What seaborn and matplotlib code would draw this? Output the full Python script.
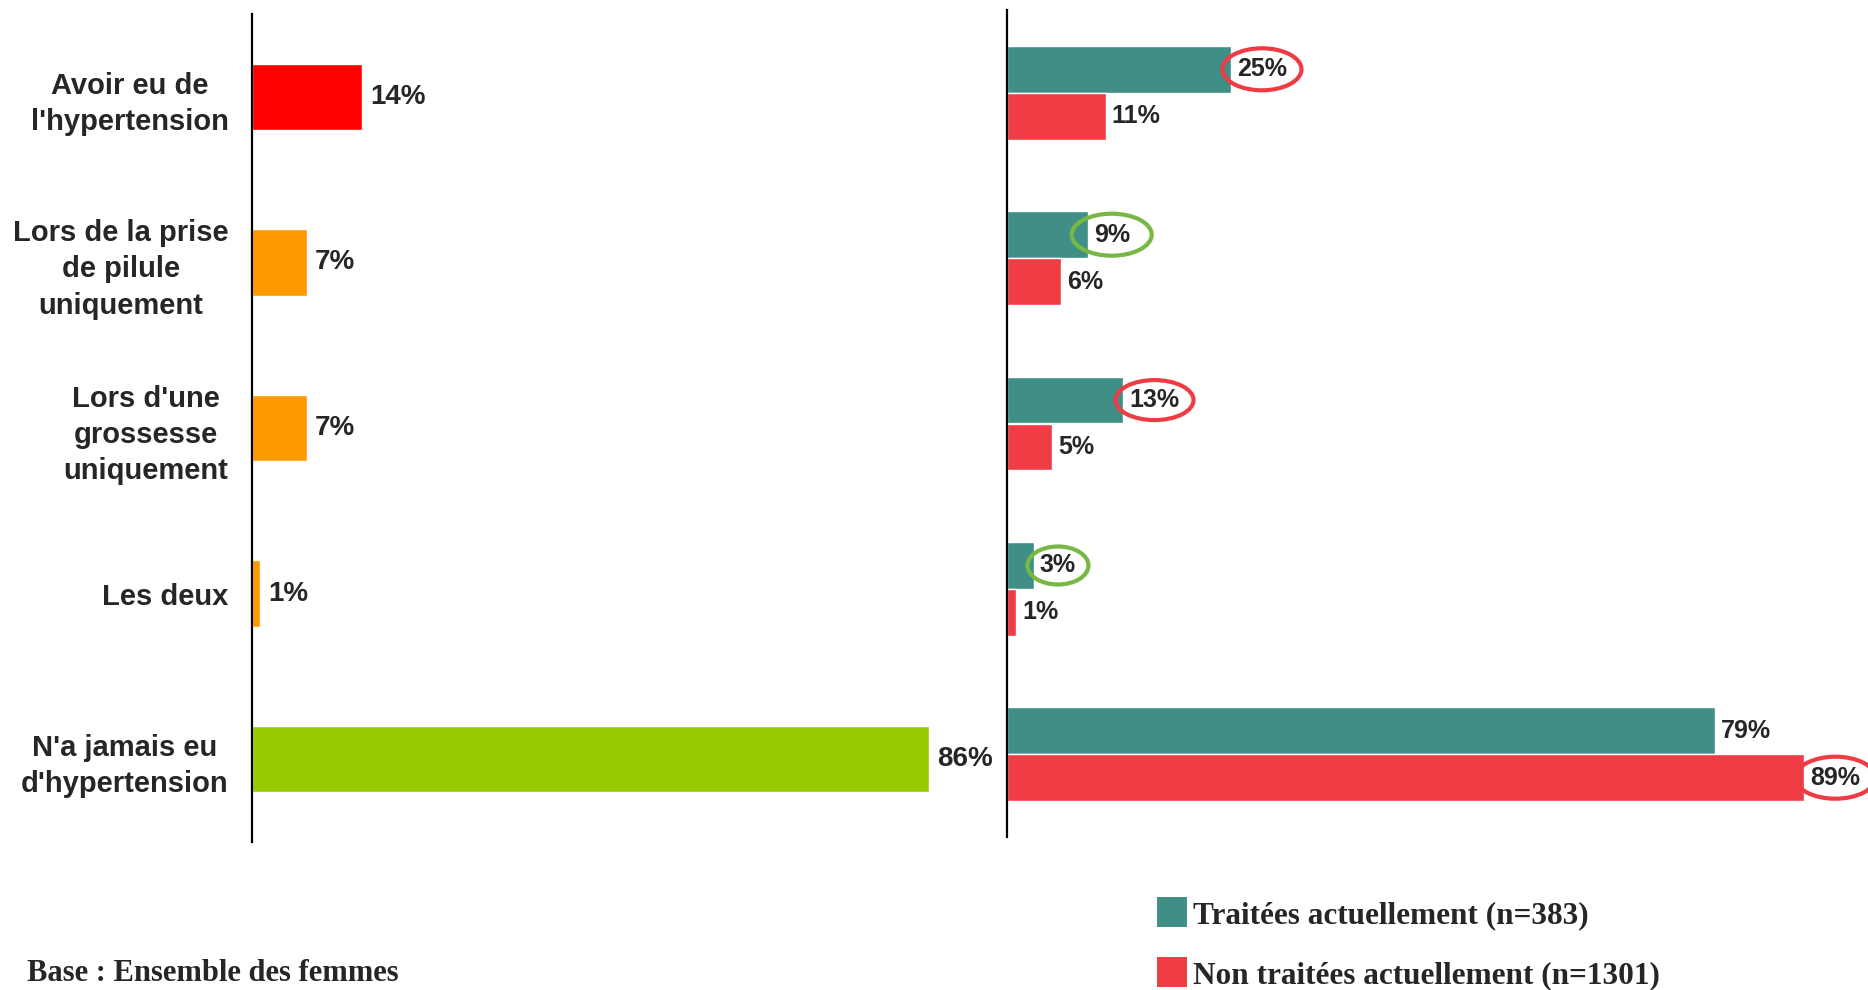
import matplotlib
matplotlib.use("Agg")
import matplotlib.pyplot as plt
import seaborn as sns
import pandas as pd
from matplotlib.patches import Ellipse, Rectangle
from matplotlib.transforms import IdentityTransform

# ---------------- data ----------------
categories = [
    "Avoir eu de\nl'hypertension",
    "Lors de la prise\nde pilule\nuniquement",
    "Lors d'une\ngrossesse\nuniquement",
    "Les deux",
    "N'a jamais eu\nd'hypertension",
]
total_values = [14, 7, 7, 1, 86]
total_colors = ["#FF0000", "#FF9900", "#FF9900", "#FF9900", "#99CC00"]

series_names = ["Traitées actuellement (n=383)", "Non traitées actuellement (n=1301)"]
treated_values = [25, 9, 13, 3, 79]
untreated_values = [11, 6, 5, 1, 89]
series_colors = ["#3F8F86", "#F03C45"]

# circled labels: (series index, category index, ellipse colour, width px, height px)
circled = [
    (0, 0, "#EF3B44", 79, 42),
    (0, 1, "#76B843", 80, 42),
    (0, 2, "#EF3B44", 78, 40),
    (0, 3, "#76B843", 61, 38),
    (1, 4, "#EF3B44", 80, 42),
]
base_text = "Base : Ensemble des femmes"

# ---------------- figure ----------------
W, H = 1868, 990
sns.set_theme(style="white")
plt.rcParams["font.family"] = ["Liberation Sans", "DejaVu Sans"]

fig = plt.figure(figsize=(W / 100, H / 100), dpi=100)

# ---- left panel ----
ax1 = fig.add_axes([252 / W, (H - 842) / H, 748 / W, 828 / H])
sns.barplot(x=total_values, y=categories, hue=categories, palette=total_colors,
            width=0.4, saturation=1, legend=False, ax=ax1)
ax1.set_xlim(0, 95)
ax1.set_ylim(4.5, -0.5)
for sp in ["top", "right", "bottom"]:
    ax1.spines[sp].set_visible(False)
ax1.spines["left"].set_color("black")
ax1.spines["left"].set_linewidth(1.6)
ax1.set_xticks([])
ax1.set_xlabel("")
ax1.set_ylabel("")
ax1.tick_params(axis="y", length=0, pad=17)
for lab in ax1.get_yticklabels():
    lab.set_fontsize(21)
    lab.set_fontweight("bold")
    lab.set_multialignment("center")
    lab.set_linespacing(1.37)
for bar in ax1.containers:
    for b in bar:
        v = b.get_width()
        ax1.annotate(f"{v:.0f}%", (v, b.get_y() + b.get_height() / 2),
                     xytext=(8, 0), textcoords="offset pixels",
                     ha="left", va="center", fontsize=20, fontweight="bold")

# ---- right panel ----
df = pd.DataFrame({
    "category": categories * 2,
    "series": [series_names[0]] * len(categories) + [series_names[1]] * len(categories),
    "value": treated_values + untreated_values,
})
ax2 = fig.add_axes([1007 / W, (H - 837) / H, 861 / W, 827 / H])
sns.barplot(data=df, x="value", y="category", hue="series", hue_order=series_names,
            palette=series_colors, width=0.566, saturation=1, legend=False,
            dodge=True, ax=ax2)
ax2.set_xlim(0, 96.1)
ax2.set_ylim(4.5, -0.5)
for sp in ["top", "right", "bottom"]:
    ax2.spines[sp].set_visible(False)
ax2.spines["left"].set_color("black")
ax2.spines["left"].set_linewidth(1.6)
ax2.set_xticks([])
ax2.set_yticks([])
ax2.set_xlabel("")
ax2.set_ylabel("")

right_texts = {}
for si, cont in enumerate(ax2.containers):
    for ci, b in enumerate(cont):
        v = b.get_width()
        t = ax2.annotate(f"{v:.0f}%", (v, b.get_y() + b.get_height() / 2),
                         xytext=(6, 0), textcoords="offset pixels",
                         ha="left", va="center", fontsize=18, fontweight="bold")
        right_texts[(si, ci)] = t

fig.canvas.draw()
renderer = fig.canvas.get_renderer()
for si, ci, col, ew, eh in circled:
    bb = right_texts[(si, ci)].get_window_extent(renderer)
    cx = (bb.x0 + bb.x1) / 2
    cy = (bb.y0 + bb.y1) / 2
    fig.add_artist(Ellipse((cx, cy), ew, eh, transform=IdentityTransform(),
                           fill=False, edgecolor=col, linewidth=3))

# ---- legend ----
legend_rows = [912, 972]
for name, col, yc in zip(series_names, series_colors, legend_rows):
    fig.add_artist(Rectangle((1157, H - yc - 15), 30, 30, transform=IdentityTransform(),
                             facecolor=col, edgecolor="none"))
    fig.text(1193 / W, 1 - (yc + 4) / H, name, fontsize=22.5, fontweight="bold",
             family=["Liberation Serif", "DejaVu Serif"], va="center", ha="left")

fig.text(27 / W, 2 / H, base_text, fontsize=22, fontweight="bold",
         family=["Liberation Serif", "DejaVu Serif"], va="bottom", ha="left")

fig.savefig("out.png", dpi=100)
